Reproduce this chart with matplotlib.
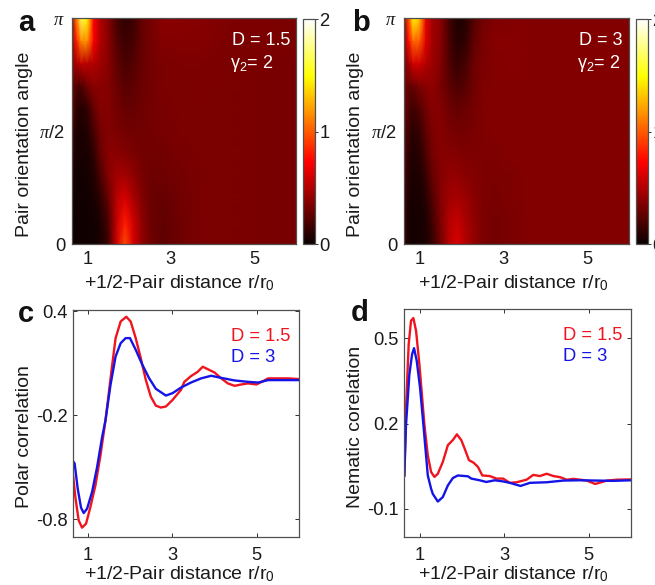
import numpy as np
import matplotlib
matplotlib.use("Agg")
import matplotlib.pyplot as plt

plt.rcParams['font.family'] = ['Liberation Sans', 'DejaVu Sans']
plt.rcParams['mathtext.fontset'] = 'custom'
plt.rcParams['mathtext.rm'] = 'Liberation Sans'
plt.rcParams['mathtext.it'] = 'Liberation Serif:italic'
plt.rcParams['mathtext.bf'] = 'Liberation Sans:bold'

# Heatmap grid: distance columns and angle rows (fraction of pi)
heat_r = [0.63, 0.75, 0.85, 1.0, 1.15, 1.3, 1.5, 1.7, 1.9, 2.1, 2.3, 2.5, 2.8, 3.2, 3.7, 4.5, 6.0]
heat_angle = [0, .1, .2, .3, .4, .5, .6, .7, .8, .9, 1.0]

heat_a = [
    [.03, .02, .02, .02, .02, .04, .15, .58, .95, .62, .40, .31, .25, .30, .34, .34, .33],
    [.03, .02, .02, .02, .03, .06, .20, .55, .80, .58, .40, .30, .26, .30, .34, .34, .33],
    [.04, .02, .02, .03, .05, .10, .28, .52, .62, .48, .36, .29, .27, .31, .34, .34, .33],
    [.06, .03, .03, .04, .07, .18, .36, .46, .46, .40, .33, .30, .30, .32, .34, .34, .33],
    [.12, .04, .04, .05, .11, .27, .38, .38, .36, .34, .32, .31, .31, .33, .34, .34, .33],
    [.20, .05, .05, .08, .18, .32, .36, .34, .32, .31, .31, .32, .33, .34, .34, .34, .33],
    [.28, .10, .08, .12, .27, .36, .36, .32, .28, .28, .30, .32, .33, .34, .34, .34, .33],
    [.32, .20, .20, .32, .38, .38, .36, .29, .24, .25, .29, .32, .34, .34, .35, .34, .33],
    [.42, .48, .55, .52, .50, .45, .38, .26, .19, .22, .28, .32, .34, .35, .35, .34, .33],
    [.48, .85, 1.15, 1.15, .72, .50, .38, .22, .15, .18, .27, .32, .36, .36, .36, .34, .34],
    [.52, 1.15, 1.65, 1.45, .72, .50, .36, .18, .11, .15, .27, .32, .38, .38, .37, .35, .34],
]
heat_b = [
    [.12, .05, .03, .04, .05, .13, .30, .52, .62, .50, .41, .35, .32, .34, .36, .36, .36],
    [.14, .05, .03, .04, .06, .16, .34, .50, .56, .47, .40, .35, .32, .34, .36, .36, .36],
    [.16, .06, .04, .05, .09, .21, .36, .45, .47, .43, .38, .35, .33, .35, .36, .36, .36],
    [.20, .08, .05, .07, .14, .27, .36, .41, .41, .38, .36, .35, .34, .35, .36, .36, .36],
    [.24, .11, .07, .10, .20, .32, .37, .37, .36, .35, .35, .35, .35, .36, .36, .36, .36],
    [.28, .15, .10, .14, .25, .34, .37, .34, .32, .32, .34, .35, .36, .36, .36, .36, .36],
    [.32, .20, .15, .22, .31, .37, .36, .31, .27, .29, .32, .35, .36, .36, .36, .36, .36],
    [.34, .28, .28, .35, .38, .40, .34, .25, .20, .23, .31, .35, .36, .36, .36, .36, .36],
    [.38, .46, .60, .60, .50, .44, .36, .22, .13, .18, .29, .34, .36, .37, .36, .36, .36],
    [.43, .78, 1.05, 1.00, .64, .46, .38, .20, .08, .12, .25, .33, .37, .37, .36, .36, .36],
    [.48, 1.00, 1.48, 1.30, .66, .46, .38, .18, .06, .09, .22, .31, .35, .36, .36, .36, .36],
]

# Polar correlation curves
polar_r_15 = [.651, .707, .786, .866, .961, 1.064, 1.183, 1.302, 1.421, 1.58, 1.66, 1.78, 1.913, 2.016, 2.136, 2.255,
              2.374, 2.493, 2.612, 2.731, 2.85, 3.009, 3.207, 3.286, 3.444, 3.603, 3.722, 3.841, 4.0, 4.159, 4.317,
              4.476, 4.635, 4.794, 4.992, 5.151, 5.27, 5.508, 5.746, 6.0]
polar_v_15 = [-.537, -.671, -.806, -.848, -.825, -.729, -.604, -.431, -.229, .09, .244, .34, .367, .34, .244, .129,
              .004, -.093, -.145, -.156, -.15, -.112, -.054, -.008, .025, .05, .079, .065, .046, .012, -.017,
              -.031, -.023, -.017, -.023, -.004, .012, .012, .012, .008]
polar_r_3 = [.651, .691, .763, .842, .905, .985, 1.104, 1.223, 1.342, 1.421, 1.54, 1.66, 1.78, 1.898, 2.0, 2.136,
             2.294, 2.453, 2.612, 2.85, 3.009, 3.207, 3.444, 3.683, 3.921, 4.159, 4.476, 4.794, 5.032, 5.27, 5.667, 6.0]
polar_v_3 = [-.464, -.479, -.623, -.733, -.764, -.739, -.642, -.498, -.325, -.229, -.025, .138, .215, .244, .244, .177,
             .09, .013, -.048, -.087, -.073, -.041, -.012, .012, .027, .015, 0, -.008, -.012, .002, .002, .002]

# Nematic correlation curves
nem_r_15 = [.626, .666, .729, .785, .84, .904, .983, 1.102, 1.182, 1.261, 1.34, 1.42, 1.539, 1.658, 1.777, 1.872,
            1.975, 2.055, 2.158, 2.269, 2.372, 2.475, 2.65, 2.809, 2.967, 3.126, 3.286, 3.524, 3.683, 3.841, 4.0,
            4.159, 4.317, 4.476, 4.635, 4.952, 5.151, 5.429, 5.667, 6.0]
nem_v_15 = [.017, .255, .48, .563, .572, .527, .409, .195, .088, .029, .012, .023, .065, .124, .142, .162,
            .142, .112, .071, .062, .047, .017, .015, .006, .006, -.009, -.007, .002, .019, .015, .023,
            .015, .011, .002, .005, -.001, -.013, -.001, .002, .003]
nem_r_3 = [.626, .666, .745, .809, .856, .92, .999, 1.078, 1.182, 1.261, 1.301, 1.42, 1.539, 1.658, 1.777, 1.896,
           2.134, 2.213, 2.412, 2.57, 2.769, 2.967, 3.126, 3.381, 3.603, 4.0, 4.397, 4.794, 5.19, 5.587, 6.0]
nem_v_3 = [.017, .196, .373, .444, .466, .421, .326, .195, .017, -.03, -.048, -.075, -.059, -.018, .008, .017,
           .014, .006, 0, -.006, 0, -.004, -.009, -.02, -.009, -.007, -.001, 0, -.001, -.002, 0]

xticks = [1, 3, 5]
xlabel = '+1/2-Pair distance r/r$_{\\mathrm{0}}$'
W, H = 655, 585
FS = 13.2
FL = 14
EDGE = '#505050'
TXT = '#1a1a1a'
RED = '#f0141e'
BLUE = '#1414e6'

fig = plt.figure(figsize=(W / 100, H / 100), dpi=100)


def pax(x0, y0, x1, y1):
    a = fig.add_axes([x0 / W, 1 - y1 / H, (x1 - x0) / W, (y1 - y0) / H])
    for s in a.spines.values():
        s.set_color(EDGE)
        s.set_linewidth(0.9)
    a.tick_params(labelsize=FS, length=3, width=0.7, color='#303030', labelcolor=TXT, direction='in', pad=4)
    return a


def labels(a, rect, xtxt, ylab):
    """xtxt = (centre x, centre y) of x label; ylab = (text, centre x, centre y) in pixels."""
    x0, y0, x1, y1 = rect
    a.set_xlabel(xlabel, fontsize=FL, color=TXT, va='center')
    a.xaxis.set_label_coords((xtxt[0] - x0) / (x1 - x0), (y1 - xtxt[1]) / (y1 - y0))
    a.set_ylabel(ylab[0], fontsize=FL, color=TXT, va='center')
    a.yaxis.set_label_coords((ylab[1] - x0) / (x1 - x0), (y1 - ylab[2]) / (y1 - y0))


def heat(rect, crect, data, xl, dlabel, dx, gx, letter, lx, ly, xtxt, ylab):
    a = pax(*rect)
    m = a.pcolormesh(heat_r, heat_angle, np.array(data), cmap='hot', vmin=0, vmax=2,
                     shading='gouraud', rasterized=True)
    a.set_xlim(xl, 6)
    a.set_ylim(0, 1)
    a.set_xticks(xticks)
    a.set_yticks([0, .5, 1], ['0', '$\\pi$/2', '$\\pi$'])
    a.tick_params(length=0, pad=5)
    labels(a, rect, xtxt, ylab)
    a.text(dx, 0.90, dlabel, transform=a.transAxes, color='white', fontsize=FS * 0.98, ha='right', va='center')
    a.text(gx, 0.80, '$\\mathrm{\\gamma_2}$= 2', transform=a.transAxes, color='white', fontsize=FS * 0.98,
           ha='right', va='center')
    c = pax(*crect)
    cb = fig.colorbar(m, cax=c, ticks=[0, 1, 2])
    cb.outline.set_edgecolor(EDGE)
    cb.outline.set_linewidth(0.9)
    c.tick_params(length=2, pad=1, direction='out', labelsize=FS)
    fig.text(lx / W, 1 - ly / H, letter, fontsize=21, fontweight='bold', ha='left', va='center', color='#111111')
    return a


def curves(rect, xl, yl, yt, ytl, ylab, r1, v1, r2, v2, letter, lx, ly, xtxt):
    a = pax(*rect)
    a.plot(r1, v1, color=RED, lw=1.7, solid_joinstyle='round')
    a.plot(r2, v2, color=BLUE, lw=1.7, solid_joinstyle='round')
    a.set_xlim(xl, 6)
    a.set_ylim(*yl)
    a.set_xticks(xticks)
    a.set_yticks(yt, ytl)
    a.tick_params(top=True, right=True)
    a.tick_params(axis='x', pad=7)
    labels(a, rect, xtxt, ylab)
    a.text(0.70, 0.885, 'D = 1.5', transform=a.transAxes, color=RED, fontsize=FS, va='center')
    a.text(0.70, 0.79, 'D = 3', transform=a.transAxes, color=BLUE, fontsize=FS, va='center')
    fig.text(lx / W, 1 - ly / H, letter, fontsize=21, fontweight='bold', ha='left', va='center', color='#111111')
    return a


heat((72, 18, 296, 244), (303, 19, 315, 244), heat_a, 0.63, 'D = 1.5', 0.973, 0.897, 'a', 18, 23,
     (179.5, 283), ('Pair orientation angle', 25, 144))
heat((404, 18, 629, 244), (636, 19, 648, 244), heat_b, 0.63, 'D = 3', 0.969, 0.96, 'b', 352, 23,
     (513, 283), ('Pair orientation angle', 356, 144))
curves((73, 310, 299, 537), 0.652, (-0.902, 0.406), [-0.8, -0.2, 0.4], ['-0.8', '-0.2', '0.4'],
       ('Polar correlation', 25, 437), polar_r_15, polar_v_15, polar_r_3, polar_v_3, 'c', 18, 314, (179, 574))
curves((404, 309, 631, 537), 0.618, (-0.2, 0.604), [-0.1, 0.2, 0.5], ['-0.1', '0.2', '0.5'],
       ('Nematic corelation', 356, 427), nem_r_15, nem_v_15, nem_r_3, nem_v_3, 'd', 351, 313, (513, 574))

fig.savefig('out.png', dpi=100)
